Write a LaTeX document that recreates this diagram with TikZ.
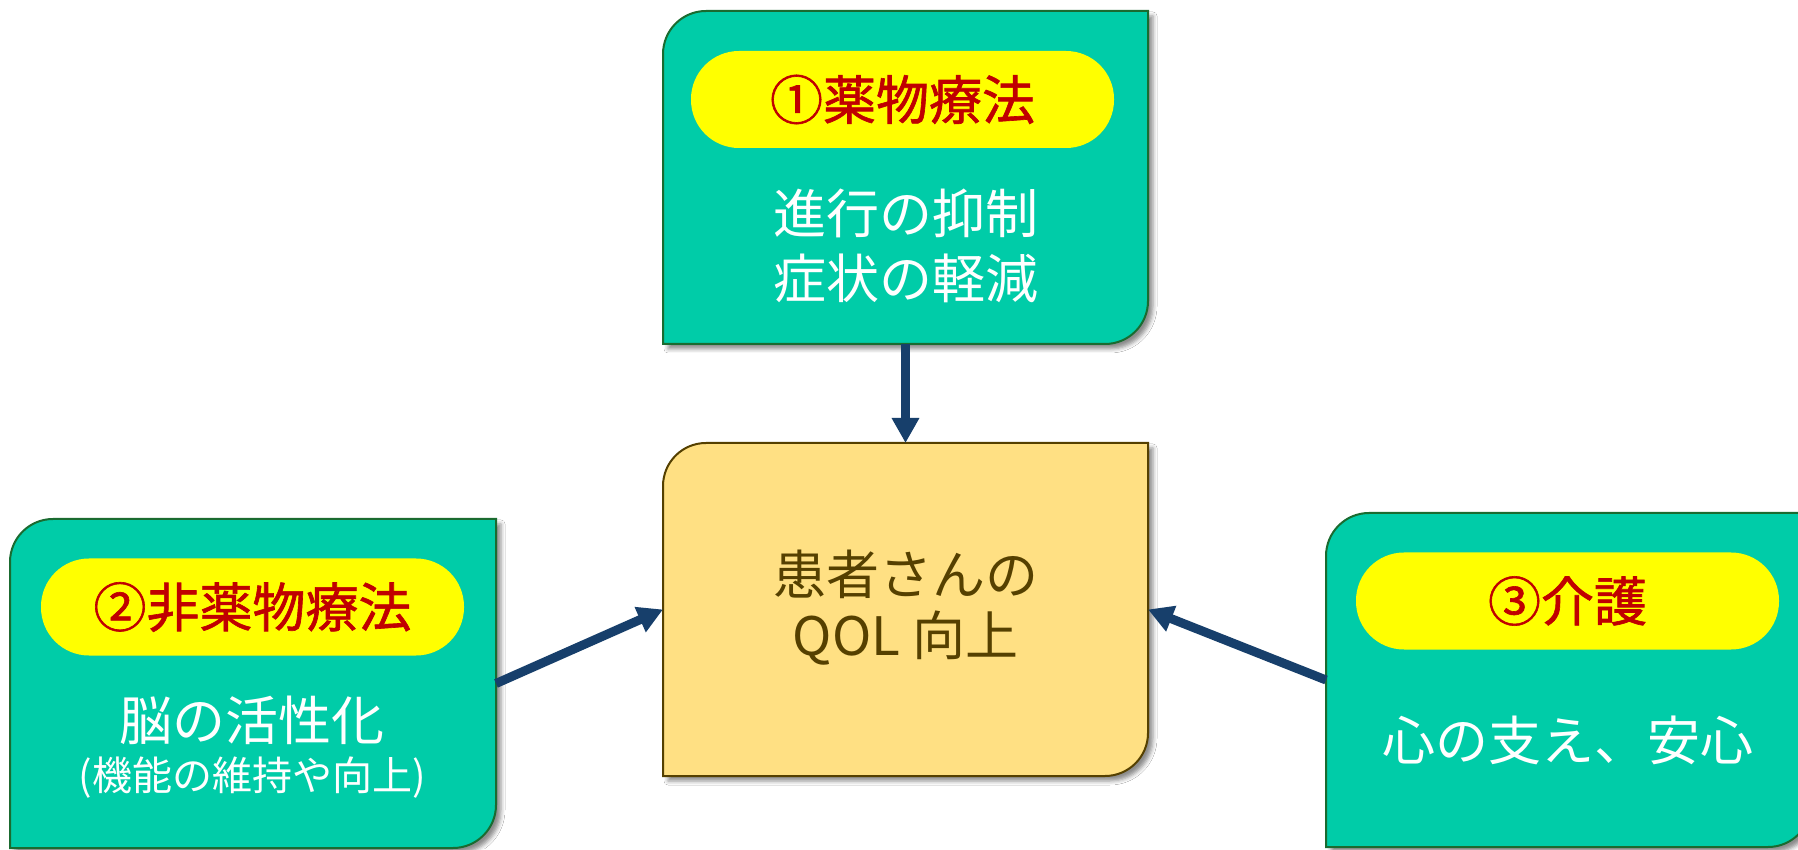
\documentclass[tikz,border=0pt]{standalone}
\usepackage{fontspec}
\setmainfont{Noto Sans CJK JP}
\newfontfamily\titlefont[FakeBold=1.2]{Noto Sans CJK JP}
\usetikzlibrary{arrows.meta,shadows.blur}
\definecolor{cardfill}{HTML}{00CCA8}
\definecolor{cardedge}{HTML}{1A6B30}
\definecolor{goalfill}{HTML}{FFE083}
\definecolor{goaledge}{HTML}{554000}
\definecolor{goaltext}{HTML}{554000}
\definecolor{pillyellow}{HTML}{FFFF00}
\definecolor{titlered}{HTML}{C00000}
\definecolor{arrowblue}{HTML}{173F6B}
\newcommand\cardshape[2]{%
  \path[#2] (#1.south west) -- ([yshift=-43pt]#1.north west)
    arc[start angle=180,end angle=90,radius=43pt] -- (#1.north east)
    -- ([yshift=43pt]#1.south east)
    arc[start angle=0,end angle=-90,radius=43pt] -- cycle;}
\begin{document}
\begin{tikzpicture}[x=1pt,y=1pt,
  holder/.style={rectangle, inner sep=0pt, outer sep=0pt},
  card/.style={fill=cardfill, draw=cardedge, line width=2pt,
    blur shadow={shadow xshift=5pt, shadow yshift=-5pt, shadow blur radius=4pt, shadow opacity=45}},
  goal/.style={fill=goalfill, draw=goaledge, line width=2pt,
    blur shadow={shadow xshift=5pt, shadow yshift=-5pt, shadow blur radius=4pt, shadow opacity=45}},
  pill/.style={rectangle, rounded corners=48pt, fill=pillyellow, text=titlered,
    inner sep=0pt, minimum width=423pt, minimum height=97pt,
    font=\titlefont\fontsize{53}{60}\selectfont},
  bodytext/.style={text=white, align=center, inner sep=0pt,
    font=\fontsize{53}{65}\selectfont},
  smalltext/.style={text=white, align=center, inner sep=0pt,
    font=\fontsize{40}{48}\selectfont},
  goaltxt/.style={text=goaltext, align=center, inner sep=0pt,
    font=\fontsize{53}{61}\selectfont},
  flow/.style={draw=arrowblue, line width=9pt, -{Triangle[width=26pt,length=25pt]}}
]
\useasboundingbox (0,0) rectangle (1798,849);
\fill[white] (0,0) rectangle (1798,849);

% box holders
\node[holder, minimum width=485pt, minimum height=333pt] (tb) at (905.5,671.5) {};
\node[holder, minimum width=485pt, minimum height=333pt] (cb) at (905.5,239.5) {};
\node[holder, minimum width=486pt, minimum height=329pt] (lb) at (253,165.5) {};
\node[holder, minimum width=485pt, minimum height=334pt] (rb) at (1568.5,169) {};

% box shapes
\cardshape{tb}{card}
\cardshape{cb}{goal}
\cardshape{lb}{card}
\cardshape{rb}{card}

% arrows
\draw[flow] (tb.south) -- (cb.north);
\draw[flow] (lb.east) -- (cb.west);
\draw[flow] (rb.west) -- (cb.east);

% pills
\node[pill] (p1) at (902.5,749.5) {①薬物療法};
\node[pill] (p2) at (252.5,242) {②非薬物療法};
\node[pill] (p3) at (1567.5,248) {③介護};

% texts
\node[bodytext] (t1) at (905.5,603.5) {進行の抑制\\症状の軽減};
\node[goaltxt] (t0) at (905.5,241.5) {患者さんの\\QOL 向上};
\node[bodytext] (t2a) at (252,129) {脳の活性化};
\node[smalltext] (t2b) at (252,71) {(機能の維持や向上)};
\node[bodytext] (t3) at (1567.5,109) {心の支え、安心};
\end{tikzpicture}
\end{document}
